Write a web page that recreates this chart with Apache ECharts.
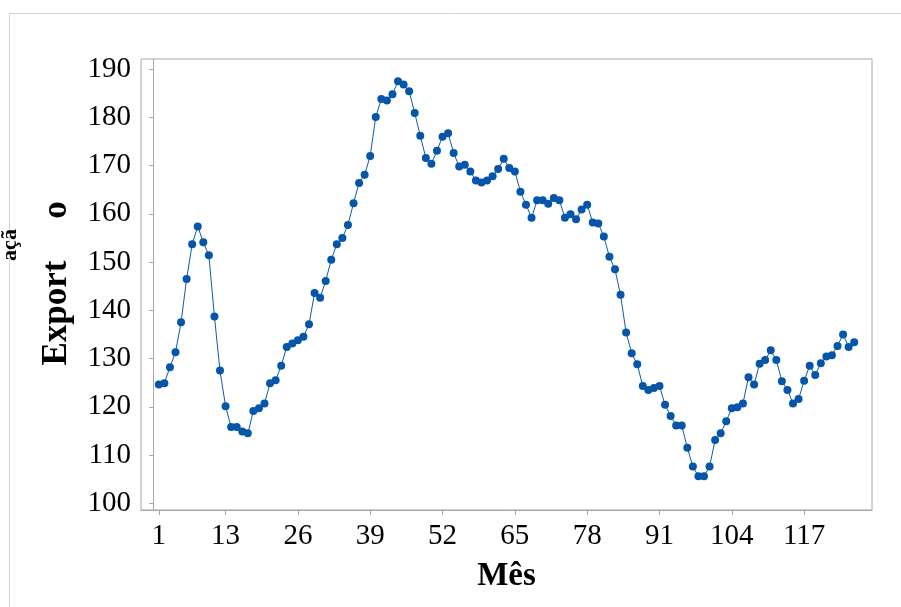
<!DOCTYPE html>
<html>
<head>
<meta charset="utf-8">
<script src="https://cdn.jsdelivr.net/npm/echarts@6/dist/echarts.min.js"></script>
<style>
  html, body { margin: 0; padding: 0; background: #fff; }
  #chart { width: 901px; height: 607px; }
</style>
</head>
<body>
<div id="chart"></div>
<script>
// monthly export series
const months = []
for (let m = 1; m <= 126; m++) months.push(m)

const exportValues = [
  124.6, 124.9, 128.2, 131.3, 137.5, 146.5, 153.7, 157.4, 154.1, 151.4,
  138.7, 127.5, 120.1, 115.8, 115.8, 114.9, 114.5, 119.1, 119.7, 120.7,
  124.9, 125.5, 128.5, 132.4, 133.1, 133.8, 134.5, 137.1, 143.6, 142.6,
  146.1, 150.5, 153.7, 155.0, 157.7, 162.2, 166.4, 168.1, 172.0, 180.1,
  183.8, 183.5, 184.8, 187.5, 186.8, 185.4, 180.9, 176.2, 171.6, 170.4,
  173.1, 176.0, 176.7, 172.6, 169.8, 170.2, 168.8, 166.9, 166.5, 166.9,
  167.8, 169.3, 171.4, 169.5, 168.8, 164.6, 161.9, 159.2, 162.8, 162.8,
  162.1, 163.3, 162.8, 159.2, 159.9, 158.9, 160.9, 161.9, 158.2, 158.0,
  155.3, 151.1, 148.5, 143.2, 135.4, 131.1, 128.8, 124.3, 123.5, 123.9,
  124.3, 120.4, 118.1, 116.1, 116.1, 111.5, 107.6, 105.6, 105.6, 107.6,
  113.1, 114.5, 117.0, 119.7, 119.9, 120.7, 126.1, 124.6, 128.9, 129.7,
  131.7, 129.7, 125.3, 123.5, 120.7, 121.6, 125.4, 128.5, 126.6, 129.0,
  130.4, 130.7, 132.6, 135.0, 132.4, 133.4
]

const xTicks = [1, 13, 26, 39, 52, 65, 78, 91, 104, 117]
const yTicks = [100, 110, 120, 130, 140, 150, 160, 170, 180, 190]

const serif = 'Liberation Serif'
const axisGray = '#a6a6a6'

const chart = echarts.init(document.getElementById('chart'))

chart.setOption({
  backgroundColor: '#fff',
  animation: false,
  graphic: [
    {
      type: 'rect',
      shape: { x: 9.5, y: 13.5, width: 900, height: 600 },
      style: { fill: 'none', stroke: '#d4d4d4', lineWidth: 1 }
    },
    {
      type: 'text',
      x: 57, y: 313,
      rotation: Math.PI / 2,
      style: {
        text: 'Export',
        font: 'bold 35px "Liberation Serif"',
        fill: '#000',
        align: 'center',
        verticalAlign: 'middle'
      }
    },
    {
      type: 'text',
      x: 57, y: 210,
      rotation: Math.PI / 2,
      style: {
        text: 'o',
        font: 'bold 35px "Liberation Serif"',
        fill: '#000',
        align: 'center',
        verticalAlign: 'middle'
      }
    },
    {
      // the garbled accented letters that slipped to the left edge
      type: 'text',
      x: 10, y: 245,
      rotation: Math.PI / 2,
      style: {
        text: 'açã',
        font: 'bold 22px "Liberation Serif"',
        fill: '#000',
        align: 'center',
        verticalAlign: 'middle'
      }
    }
  ],
  grid: {
    left: 141,
    right: 29,
    top: 59,
    bottom: 97,
    show: true,
    borderColor: axisGray,
    borderWidth: 1,
    containLabel: false,
    outerBoundsMode: 'none'
  },
  xAxis: {
    type: 'value',
    min: -2.2,
    max: 129.2,
    name: 'Mês',
    nameLocation: 'middle',
    nameGap: 50,
    nameTextStyle: { fontFamily: serif, fontWeight: 'bold', fontSize: 33, color: '#000' },
    axisLine: { show: true, lineStyle: { color: axisGray } },
    axisTick: { show: true, length: 5, customValues: xTicks, lineStyle: { color: axisGray } },
    axisLabel: { customValues: xTicks, margin: 12, fontFamily: serif, fontSize: 29, color: '#000' },
    splitLine: { show: false }
  },
  yAxis: {
    type: 'value',
    min: 98.6,
    max: 192.1,
    axisLine: { show: true, lineStyle: { color: axisGray } },
    axisTick: { show: true, length: 4, customValues: yTicks, lineStyle: { color: axisGray } },
    axisLabel: { customValues: yTicks, margin: 10, fontFamily: serif, fontSize: 29, color: '#000' },
    splitLine: { show: false }
  },
  series: [{
    type: 'line',
    data: months.map((m, i) => [m, exportValues[i]]),
    symbol: 'circle',
    symbolSize: 8,
    lineStyle: { color: '#0b5bab', width: 1 },
    itemStyle: { color: '#0556a8' }
  }]
})
</script>
</body>
</html>
